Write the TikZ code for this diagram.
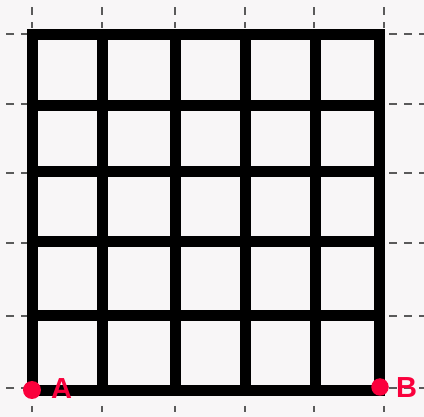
\documentclass[tikz,border=0pt]{standalone}
\usepackage{fontspec}
\setmainfont{Liberation Sans}
\definecolor{bgc}{RGB}{248,246,247}
\definecolor{tickc}{RGB}{90,90,90}
\definecolor{ptred}{RGB}{250,0,60}
\begin{document}
\begin{tikzpicture}[x=1pt,y=-1pt,
  tick/.style={draw=tickc,line width=1.3pt,dash pattern=on 8pt off 7pt,dash phase=2pt},
  rtick/.style={draw=tickc,line width=1.3pt,dash pattern=on 8pt off 7pt,dash phase=11pt},
  btick/.style={draw=tickc,line width=1.3pt},
  gridline/.style={line width=11pt,draw=black},
  dot/.style={circle,fill=ptred,inner sep=0pt,minimum size=18pt},
  lbl/.style={text=ptred,font=\bfseries\fontsize{29}{29}\selectfont,inner sep=0pt,anchor=base}]
\fill[bgc] (0,0) rectangle (424,417);
\useasboundingbox (0,0) rectangle (424,417);
% ticks
\foreach \x in {32,102,175,245,314,384}{
  \draw[tick] (\x,28) -- (\x,0);
  \draw[btick] (\x,406) -- (\x,412);
}
\foreach \y in {34,104,173,243,316,388}{
  \draw[tick] (27,\y) -- (0,\y);
  \draw[rtick] (385,\y) -- (424,\y);
}
% grid
\foreach \x in {102.5,175.5,245.5,315.5}{
  \draw[gridline] (\x,34.5) -- (\x,390.5);
}
\foreach \y in {105.3,171.3,242,316}{
  \draw[gridline] (32.5,\y) -- (379.5,\y);
}
\draw[gridline,line join=miter] (32.5,34.5) rectangle (379.5,390.5);
% points
\node[dot] (A) at (32,390) {};
\node[dot,minimum size=17.5pt] (B) at (380,387) {};
\node[lbl] (la) at (61.5,398.5) {A};
\node[lbl] (lb) at (406.5,398) {B};
\end{tikzpicture}
\end{document}
